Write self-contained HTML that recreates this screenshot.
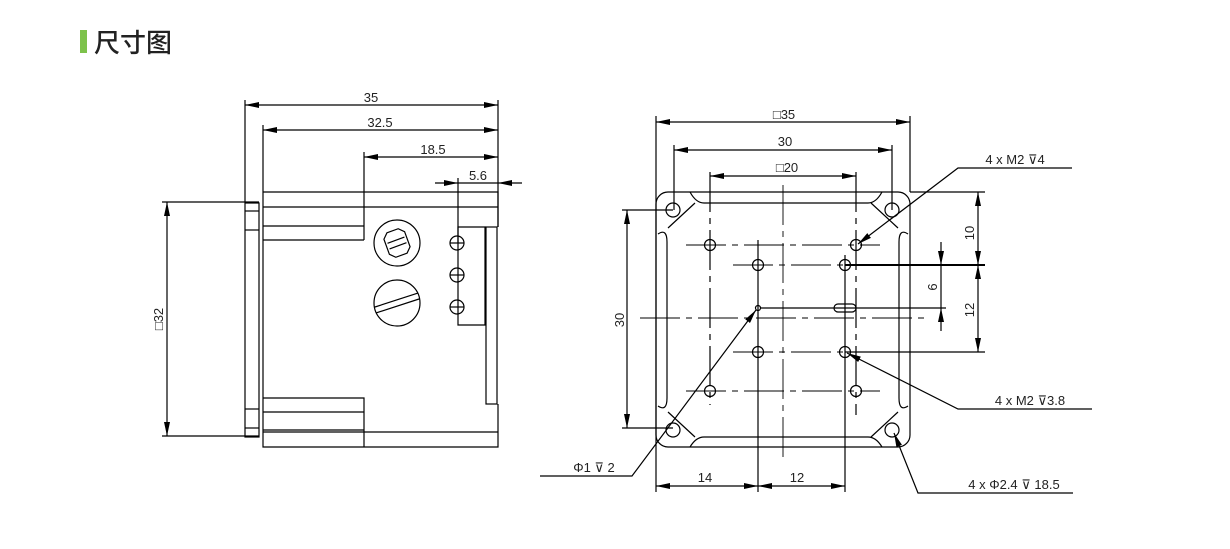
<!DOCTYPE html>
<html><head><meta charset="utf-8"><style>
html,body{margin:0;padding:0;background:#fff;}
svg{display:block;}
text{font-family:"Liberation Sans","DejaVu Sans","Noto Sans CJK SC",sans-serif;fill:#222;}
</style></head><body>
<svg width="1230" height="549" viewBox="0 0 1230 549" xmlns="http://www.w3.org/2000/svg">
<defs>
<marker id="a" viewBox="0 0 14 6" refX="14" refY="3" markerWidth="14" markerHeight="6" markerUnits="userSpaceOnUse" orient="auto-start-reverse"><path d="M0,0 L14,3 L0,6z" fill="#000"/></marker>
</defs>
<rect x="80" y="30" width="7" height="23" fill="#7dc24b"/>
<text x="94" y="52" font-size="26" style="font-family:'Noto Sans CJK SC',sans-serif;font-weight:500" fill="#222">尺寸图</text>

<g stroke="#000" stroke-width="1.2" fill="none">
<!-- LEFT VIEW dims -->
<line x1="245" y1="100" x2="245" y2="202"/>
<line x1="498" y1="100" x2="498" y2="227"/>
<line x1="263" y1="125" x2="263" y2="192"/>
<line x1="364" y1="152" x2="364" y2="192"/>
<line x1="458" y1="178" x2="458" y2="243"/>
<line x1="245" y1="105" x2="498" y2="105" marker-start="url(#a)" marker-end="url(#a)"/>
<line x1="263" y1="130" x2="498" y2="130" marker-start="url(#a)" marker-end="url(#a)"/>
<line x1="364" y1="157" x2="498" y2="157" marker-start="url(#a)" marker-end="url(#a)"/>
<line x1="435" y1="183" x2="458" y2="183" marker-end="url(#a)"/>
<line x1="522" y1="183" x2="498" y2="183" marker-end="url(#a)"/>
<line x1="458" y1="183" x2="498" y2="183"/>
<line x1="162" y1="202" x2="259" y2="202"/>
<line x1="162" y1="436" x2="259" y2="436"/>
<line x1="167" y1="202" x2="167" y2="436" marker-start="url(#a)" marker-end="url(#a)"/>
<!-- body -->
<path d="M263,192 H498 V227 M263,192 V447 H498 V404"/>
<line x1="263" y1="207" x2="498" y2="207"/>
<line x1="364" y1="192" x2="364" y2="240"/>
<line x1="263" y1="226" x2="364" y2="226"/>
<line x1="263" y1="240" x2="364" y2="240"/>
<path d="M263,398 H364 V447"/>
<line x1="263" y1="412" x2="364" y2="412"/>
<line x1="263" y1="432" x2="498" y2="432"/>
<line x1="263" y1="430" x2="364" y2="430"/>
<rect x="245" y="203" width="14" height="234"/>
<line x1="245" y1="211" x2="259" y2="211"/>
<line x1="245" y1="230" x2="259" y2="230"/>
<line x1="245" y1="409" x2="259" y2="409"/>
<line x1="245" y1="428" x2="259" y2="428"/>
<path d="M458,227 H485 V325 H458 Z"/>
<rect x="486" y="227" width="11" height="177"/>
<circle cx="457" cy="243" r="7"/><line x1="450" y1="243" x2="464" y2="243"/>
<circle cx="457" cy="275" r="7"/><line x1="450" y1="275" x2="464" y2="275"/>
<circle cx="457" cy="307" r="7"/><line x1="450" y1="307" x2="464" y2="307"/>
<circle cx="397" cy="243" r="23"/>
<g transform="rotate(-20 397 243)"><path d="M391,230 h12 l5,5 v16 l-5,5 h-12 l-5,-5 v-16 z"/><line x1="388" y1="240" x2="406" y2="240"/><line x1="388" y1="246" x2="406" y2="246"/></g>
<circle cx="397" cy="303" r="23"/>
<g transform="rotate(-18 397 303)"><line x1="374" y1="300" x2="420" y2="300"/><line x1="374" y1="306" x2="420" y2="306"/></g>

<!-- RIGHT VIEW dims -->
<line x1="656" y1="116" x2="656" y2="492"/>
<line x1="910" y1="116" x2="910" y2="192"/>
<line x1="674" y1="145" x2="674" y2="210"/>
<line x1="892" y1="145" x2="892" y2="210"/>
<line x1="710" y1="172" x2="710" y2="405" stroke-dasharray="40,6,6,6"/>
<line x1="856" y1="172" x2="856" y2="415" stroke-dasharray="40,6,6,6"/>
<line x1="656" y1="122" x2="910" y2="122" marker-start="url(#a)" marker-end="url(#a)"/>
<line x1="674" y1="150" x2="892" y2="150" marker-start="url(#a)" marker-end="url(#a)"/>
<line x1="710" y1="176" x2="856" y2="176" marker-start="url(#a)" marker-end="url(#a)"/>
<line x1="622" y1="210" x2="673" y2="210"/>
<line x1="622" y1="428" x2="673" y2="428"/>
<line x1="627" y1="210" x2="627" y2="428" marker-start="url(#a)" marker-end="url(#a)"/>
<line x1="910" y1="192" x2="985" y2="192"/>
<line x1="845" y1="265" x2="985" y2="265" stroke-width="2"/>
<line x1="845" y1="352" x2="985" y2="352"/>
<line x1="978" y1="192" x2="978" y2="265" marker-start="url(#a)" marker-end="url(#a)"/>
<line x1="978" y1="265" x2="978" y2="352" marker-start="url(#a)" marker-end="url(#a)"/>
<line x1="941" y1="242" x2="941" y2="265" marker-end="url(#a)"/>
<line x1="941" y1="331" x2="941" y2="308" marker-end="url(#a)"/>
<line x1="941" y1="265" x2="941" y2="308"/>
<line x1="760" y1="308" x2="946" y2="308"/>
<line x1="758" y1="240" x2="758" y2="492"/>
<line x1="845" y1="255" x2="845" y2="492"/>
<line x1="656" y1="486" x2="758" y2="486" marker-start="url(#a)" marker-end="url(#a)"/>
<line x1="758" y1="486" x2="845" y2="486" marker-start="url(#a)" marker-end="url(#a)"/>
<!-- plate -->
<rect x="656" y="192" width="254" height="255" rx="12"/>
<path d="M690,192 Q696,203 704,203 H868 Q876,203 882,192"/>
<path d="M690,447 Q696,437 704,437 H868 Q876,437 882,447"/>
<path d="M658,234 Q667,228 667,242 V398 Q667,412 658,406"/>
<path d="M908,234 Q899,228 899,242 V398 Q899,412 908,406"/>
<path d="M668,228 L695,203 M898,228 L871,203 M668,412 L695,437 M898,412 L871,437"/>
<circle cx="673" cy="210" r="7"/><circle cx="892" cy="210" r="7"/>
<circle cx="673" cy="430" r="7"/><circle cx="892" cy="430" r="7"/>
<g stroke-dasharray="40,6,6,6" stroke-width="0.9">
<line x1="686" y1="245" x2="880" y2="245"/>
<line x1="733" y1="265" x2="870" y2="265"/>
<line x1="733" y1="352" x2="870" y2="352"/>
<line x1="686" y1="391" x2="880" y2="391"/>
<line x1="783" y1="185" x2="783" y2="457"/>
<line x1="640" y1="318" x2="925" y2="318"/>
</g>
<circle cx="710" cy="245" r="5.5"/><circle cx="856" cy="245" r="5.5"/>
<circle cx="758" cy="265" r="5.5"/><circle cx="845" cy="265" r="5.5"/>
<circle cx="758" cy="352" r="5.5"/><circle cx="845" cy="352" r="5.5"/>
<circle cx="710" cy="391" r="5.5"/><circle cx="856" cy="391" r="5.5"/>
<circle cx="758" cy="308" r="2.5"/>
<rect x="834" y="304" width="22" height="8" rx="4"/>
<!-- leaders -->
<path d="M1072,168 H958 L858,244" marker-end="url(#a)"/>
<path d="M1092,409 H958 L847,353" marker-end="url(#a)"/>
<path d="M1073,493 H918 L894,433" marker-end="url(#a)"/>
<path d="M540,476 H632 L756,310" marker-end="url(#a)"/>
</g>

<g font-size="13" text-anchor="middle">
<text x="371" y="102">35</text>
<text x="380" y="127">32.5</text>
<text x="433" y="154">18.5</text>
<text x="478" y="180">5.6</text>
<text transform="translate(163,319) rotate(-90)">□32</text>
<text x="784" y="119">□35</text>
<text x="785" y="146">30</text>
<text x="787" y="172">□20</text>
<text transform="translate(624,320) rotate(-90)">30</text>
<text transform="translate(974,233) rotate(-90)">10</text>
<text transform="translate(974,310) rotate(-90)">12</text>
<text transform="translate(937,287) rotate(-90)">6</text>
<text x="705" y="482">14</text>
<text x="797" y="482">12</text>
<text x="1015" y="164">4 x  M2 ⊽4</text>
<text x="1030" y="405">4 x  M2 ⊽3.8</text>
<text x="1014" y="489">4 x  Φ2.4 ⊽ 18.5</text>
<text x="594" y="472">Φ1  ⊽  2</text>
</g>
</svg>
</body></html>
